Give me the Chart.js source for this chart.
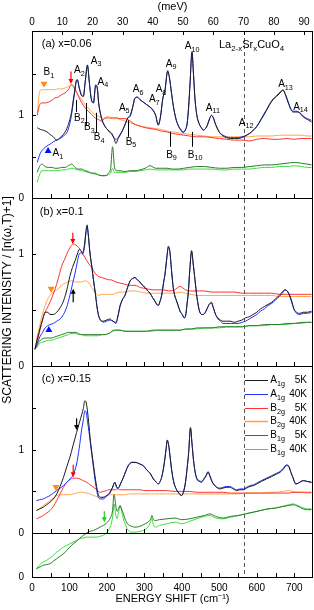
<!DOCTYPE html>
<html>
<head>
<meta charset="utf-8">
<script src="https://cdn.jsdelivr.net/npm/chart.js@4.4.1/dist/chart.umd.min.js"></script>
<style>
  html, body { margin: 0; padding: 0; background: #fff; }
  #wrap { width: 314px; height: 610px; }
</style>
</head>
<body>
<div id="wrap"><canvas id="ramanChart" width="314" height="610"></canvas></div>
<script>
// ---- panel (a) x=0.06 ----
const aGridA = [14,22,30,40,48,57,66,75,84,93, 101,106,110,114,118,121,126,132,137,142,
  148,153,158,164,170,174,178,186,193,199, 206,213,219,224,230,235,242,248,256,262,
  268,275,281,288,297,306,315,324,330,337, 343,349,355,362,367,372,377,384,390,397,
  404,409,414,418,422,427,431,435,440,446, 452,457,463,468,474,479,484,490,501,510,
  519,530,540,550,560,573,586,599,612,626, 640,653,662,670,677,684,691,697,704,711,
  718,724,735,746];
const aA1g5K = [0.85,0.83,0.82,0.80,0.77,0.74,0.70,0.73,0.77,0.84, 0.95,1.05,1.18,1.30,1.42,1.43,1.33,1.24,1.23,1.40,
  1.61,1.40,1.20,1.15,1.36,1.34,1.15,0.96,0.88,0.84, 0.81,0.78,0.72,0.66,0.72,0.76,0.82,0.88,0.97,0.99,
  1.08,1.21,1.22,1.19,1.16,1.13,1.10,1.06,1.00,0.88, 0.98,1.20,1.30,1.54,1.45,1.28,1.12,0.96,0.88,0.83,
  0.80,0.82,0.90,1.10,1.40,1.77,1.50,1.20,1.00,0.90, 0.85,0.82,0.84,0.88,0.96,1.00,0.97,0.89,0.79,0.75,
  0.73,0.72,0.72,0.72,0.73,0.76,0.80,0.86,0.95,1.06, 1.17,1.23,1.27,1.31,1.24,1.15,1.07,1.04,1.04,1.04,
  1.01,0.98,0.95,0.92];
const aA1g40K = [0.43,0.54,0.59,0.63,0.65,0.68,0.70,0.72,0.75,0.79, 0.90,1.02,1.15,1.28,1.40,1.43,1.34,1.25,1.23,1.41,
  1.60,1.40,1.21,1.15,1.37,1.33,1.14,0.96,0.88,0.84, 0.80,0.77,0.73,0.71,0.73,0.77,0.82,0.89,0.97,1.00,
  1.09,1.21,1.22,1.19,1.16,1.13,1.10,1.05,1.00,0.89, 0.99,1.20,1.31,1.53,1.45,1.28,1.12,0.96,0.88,0.82,
  0.79,0.82,0.90,1.10,1.40,1.76,1.50,1.20,1.00,0.90, 0.85,0.82,0.84,0.88,0.96,1.00,0.97,0.89,0.79,0.76,
  0.74,0.73,0.73,0.73,0.74,0.76,0.80,0.86,0.96,1.07, 1.18,1.24,1.28,1.30,1.25,1.16,1.08,1.05,1.05,1.04,
  1.02,0.99,0.96,0.94];
const aGridB = [14,20,26,35,44,53,61,70,79,88, 97,106,115,124,133,142,150,159,168,177,
  186,195,204,210,215,220,226,235,248,262, 275,288,302,315,330,345,360,375,390,405,
  420,440,460,480,500,520,540,560,580,600, 620,640,660,680,700,720,735,746];
const aB2g5K = [1.00,1.12,1.15,1.15,1.16,1.18,1.21,1.22,1.25,1.27, 1.31,1.37,1.31,1.23,1.15,1.09,1.05,1.01,0.97,0.95,
  0.93,0.97,0.98,0.97,0.97,0.97,0.97,0.96,0.96,0.93, 0.89,0.87,0.85,0.84,0.83,0.81,0.80,0.78,0.77,0.76,
  0.75,0.74,0.74,0.73,0.72,0.71,0.70,0.70,0.69,0.71, 0.72,0.71,0.71,0.72,0.71,0.72,0.72,0.72];
const aB2g40K = [1.00,1.28,1.31,1.31,1.31,1.31,1.31,1.32,1.32,1.33, 1.35,1.37,1.32,1.24,1.19,1.13,1.09,1.04,1.01,0.99,
  0.97,0.96,0.96,0.96,0.96,0.96,0.96,0.95,0.93,0.91, 0.89,0.87,0.86,0.85,0.84,0.83,0.81,0.80,0.79,0.78,
  0.77,0.76,0.75,0.74,0.74,0.74,0.74,0.74,0.74,0.75, 0.75,0.75,0.76,0.76,0.76,0.76,0.75,0.75];
const aB1g5K = [0.31,0.38,0.41,0.38,0.37,0.37,0.36,0.36,0.37,0.37, 0.39,0.41,0.37,0.35,0.35,0.33,0.32,0.30,0.30,0.28,
  0.27,0.27,0.30,0.36,0.62,0.38,0.33,0.33,0.32,0.33, 0.33,0.34,0.36,0.39,0.36,0.36,0.36,0.35,0.35,0.36,
  0.37,0.38,0.38,0.37,0.36,0.36,0.37,0.37,0.38,0.39, 0.40,0.40,0.41,0.42,0.43,0.42,0.41,0.40];
const aB1g40K = [0.19,0.28,0.33,0.33,0.33,0.33,0.33,0.33,0.34,0.34, 0.35,0.36,0.35,0.34,0.33,0.32,0.31,0.30,0.29,0.28,
  0.27,0.27,0.28,0.30,0.36,0.31,0.31,0.31,0.31,0.32, 0.32,0.33,0.34,0.35,0.34,0.34,0.34,0.34,0.34,0.34,
  0.35,0.35,0.35,0.35,0.34,0.34,0.35,0.35,0.35,0.36, 0.37,0.37,0.38,0.38,0.39,0.38,0.37,0.37];

// ---- panel (b) x=0.1 ----
const bGridA = [8,14,21,28,35,42,48,57,66,75, 84,93,101,108,115,121,126,131,135,140,
  144,147,150,155,160,164,169,173,177,181, 186,190,199,208,216,224,230,235,241,248,
  255,262,268,275,281,288,295,302,309,315, 322,328,333,337,341,346,351,355,360,364,
  368,373,377,381,386,390,395,401,406,410, 414,417,421,426,430,435,440,448,455,461,
  467,473,479,484,490,496,503,510,520,530, 540,550,560,570,580,590,600,610,620,630,
  640,650,660,668,675,681,688,693,699,706, 715,724,735,746];
const bA1g5K = [0.15,0.24,0.33,0.41,0.48,0.48,0.46,0.46,0.48,0.52, 0.58,0.68,0.80,0.88,0.94,1.00,1.04,1.03,1.01,1.08,
  1.20,1.26,1.18,1.00,0.88,0.77,0.65,0.54,0.46,0.42, 0.40,0.40,0.41,0.42,0.40,0.39,0.46,0.54,0.59,0.63,
  0.70,0.76,0.78,0.79,0.77,0.75,0.72,0.70,0.67,0.65, 0.61,0.58,0.55,0.54,0.57,0.63,0.74,0.82,0.97,1.07,
  1.02,0.83,0.70,0.63,0.58,0.54,0.49,0.46,0.43,0.45, 0.56,0.65,0.85,1.03,0.92,0.77,0.62,0.48,0.46,0.47,
  0.51,0.55,0.57,0.52,0.46,0.43,0.41,0.40,0.40,0.40, 0.39,0.40,0.41,0.43,0.44,0.46,0.48,0.51,0.53,0.55,
  0.57,0.60,0.63,0.66,0.68,0.67,0.63,0.58,0.51,0.48, 0.47,0.48,0.48,0.49];
const bA1g40K = [0.15,0.20,0.26,0.30,0.34,0.36,0.37,0.38,0.40,0.42, 0.46,0.53,0.63,0.73,0.83,0.93,1.00,1.01,1.00,1.06,
  1.19,1.25,1.18,1.00,0.88,0.77,0.65,0.54,0.46,0.42, 0.40,0.39,0.40,0.41,0.40,0.38,0.45,0.53,0.59,0.63,
  0.70,0.76,0.78,0.79,0.77,0.75,0.72,0.70,0.67,0.65, 0.61,0.58,0.55,0.54,0.57,0.63,0.74,0.82,0.97,1.06,
  1.02,0.83,0.70,0.63,0.58,0.54,0.49,0.46,0.43,0.45, 0.56,0.65,0.85,1.02,0.92,0.77,0.62,0.48,0.46,0.47,
  0.51,0.55,0.56,0.52,0.46,0.42,0.40,0.38,0.38,0.38, 0.38,0.38,0.39,0.40,0.42,0.44,0.46,0.49,0.51,0.54,
  0.56,0.59,0.62,0.65,0.68,0.67,0.62,0.57,0.51,0.47, 0.46,0.47,0.47,0.48];
const bGridB = [8,14,20,26,35,44,53,61,70,79, 88,97,104,110,117,124,132,141,150,159,
  168,177,186,195,204,210,217,224,235,248, 262,275,290,306,320,335,350,365,380,395,
  410,425,440,460,480,500,520,540,560,580, 600,620,640,660,680,700,720,735,746];
const bB2g5K = [0.15,0.22,0.30,0.39,0.48,0.54,0.61,0.68,0.78,0.89, 0.96,1.03,1.07,1.09,1.08,1.06,1.02,0.97,0.92,0.88,
  0.83,0.80,0.79,0.78,0.77,0.77,0.76,0.75,0.74,0.73, 0.72,0.72,0.70,0.69,0.68,0.68,0.68,0.67,0.68,0.71,
  0.68,0.67,0.67,0.67,0.66,0.66,0.66,0.66,0.65,0.65, 0.65,0.65,0.65,0.64,0.64,0.64,0.64,0.64,0.64];
const bB2g40K = [0.15,0.26,0.35,0.44,0.54,0.61,0.65,0.67,0.69,0.72, 0.74,0.75,0.76,0.76,0.75,0.75,0.75,0.76,0.75,0.70,
  0.66,0.63,0.64,0.64,0.64,0.64,0.64,0.65,0.66,0.66, 0.67,0.67,0.66,0.65,0.65,0.65,0.65,0.65,0.65,0.66,
  0.65,0.64,0.63,0.63,0.63,0.63,0.63,0.63,0.63,0.63, 0.63,0.63,0.63,0.62,0.62,0.62,0.62,0.62,0.62];
const bB1g5K = [0.15,0.19,0.22,0.24,0.25,0.25,0.25,0.26,0.27,0.28, 0.29,0.30,0.30,0.30,0.30,0.29,0.28,0.28,0.28,0.28,
  0.28,0.28,0.28,0.28,0.29,0.30,0.32,0.32,0.32,0.31, 0.31,0.31,0.31,0.31,0.32,0.32,0.32,0.32,0.32,0.32,
  0.33,0.33,0.34,0.34,0.34,0.35,0.35,0.35,0.35,0.36, 0.36,0.37,0.37,0.37,0.38,0.38,0.39,0.39,0.39];
const bB1g40K = [0.15,0.17,0.20,0.21,0.22,0.23,0.23,0.24,0.25,0.26, 0.27,0.28,0.29,0.29,0.29,0.28,0.28,0.27,0.27,0.27,
  0.27,0.27,0.28,0.28,0.29,0.30,0.31,0.32,0.32,0.31, 0.31,0.31,0.31,0.31,0.31,0.32,0.32,0.32,0.32,0.32,
  0.33,0.33,0.33,0.34,0.34,0.34,0.35,0.35,0.35,0.36, 0.36,0.36,0.37,0.37,0.37,0.38,0.38,0.39,0.39];

// ---- panel (c) x=0.15 ----
const cGridA = [12,21,30,39,48,57,66,75,84,93, 101,110,119,126,133,137,141,144,148,152,
  155,160,165,171,177,183,190,199,208,215, 221,226,230,237,244,250,257,266,275,288,
  297,306,315,324,330,337,342,346,351,355, 358,361,365,368,373,379,386,392,399,404,
  410,414,418,423,427,431,436,441,447,452, 458,464,470,475,480,486,493,501,510,520,
  528,537,546,555,564,573,582,591,600,612, 626,640,653,662,671,679,685,691,697,704,
  711,718,724,735,746];
const cA1g5K = [0.27,0.29,0.31,0.34,0.37,0.41,0.47,0.56,0.67,0.80, 0.91,1.06,1.21,1.32,1.43,1.50,1.59,1.58,1.47,1.30,
  1.15,0.96,0.79,0.60,0.46,0.43,0.43,0.45,0.49,0.55, 0.61,0.55,0.54,0.60,0.67,0.74,0.81,0.85,0.85,0.83,
  0.81,0.76,0.72,0.65,0.62,0.59,0.62,0.67,0.78,0.91, 1.02,1.12,1.05,0.94,0.75,0.60,0.52,0.48,0.45,0.49,
  0.62,0.78,0.96,1.27,1.08,0.88,0.72,0.64,0.62,0.61, 0.64,0.68,0.73,0.68,0.62,0.58,0.55,0.53,0.54,0.55,
  0.55,0.53,0.51,0.52,0.52,0.54,0.56,0.57,0.59,0.62, 0.65,0.68,0.71,0.73,0.77,0.81,0.80,0.73,0.66,0.59,
  0.60,0.62,0.63,0.62,0.61];
const cA1g40K = [0.39,0.40,0.41,0.43,0.45,0.48,0.51,0.54,0.57,0.61, 0.65,0.70,0.83,1.02,1.26,1.36,1.47,1.46,1.35,1.22,
  1.11,0.93,0.75,0.56,0.43,0.41,0.41,0.44,0.48,0.55, 0.61,0.55,0.54,0.60,0.67,0.74,0.81,0.85,0.85,0.83,
  0.81,0.76,0.72,0.65,0.62,0.59,0.62,0.67,0.78,0.90, 1.01,1.11,1.05,0.94,0.75,0.60,0.52,0.48,0.45,0.49,
  0.62,0.78,0.96,1.26,1.08,0.88,0.72,0.65,0.63,0.62, 0.65,0.69,0.74,0.69,0.63,0.58,0.55,0.54,0.55,0.56,
  0.56,0.54,0.52,0.53,0.53,0.55,0.57,0.58,0.60,0.63, 0.66,0.69,0.72,0.74,0.78,0.82,0.81,0.73,0.66,0.59,
  0.60,0.62,0.63,0.62,0.61];
const cGridB = [12,21,30,39,48,57,66,75,84,93, 101,110,119,128,137,146,155,164,173,181,
  190,199,205,210,215,219,223,227,231,235, 239,244,250,257,266,275,288,302,312,317,
  320,324,330,340,359,382,400,420,440,460, 475,490,510,530,550,570,590,610,630,650,
  670,685,697,710,724,735,746];
const cB2g5K = [0.17,0.19,0.21,0.24,0.27,0.32,0.39,0.47,0.55,0.61, 0.64,0.66,0.66,0.65,0.63,0.61,0.58,0.55,0.52,0.49,
  0.50,0.51,0.52,0.52,0.52,0.52,0.52,0.53,0.53,0.52, 0.52,0.52,0.52,0.52,0.52,0.52,0.52,0.51,0.51,0.51,
  0.51,0.51,0.51,0.51,0.51,0.50,0.50,0.50,0.49,0.49, 0.49,0.49,0.49,0.48,0.48,0.48,0.48,0.48,0.48,0.48,
  0.48,0.48,0.49,0.49,0.49,0.49,0.49];
const cB2g40K = [0.27,0.30,0.33,0.36,0.39,0.42,0.45,0.46,0.46,0.46, 0.46,0.47,0.48,0.49,0.49,0.48,0.47,0.45,0.44,0.42,
  0.43,0.45,0.46,0.46,0.46,0.46,0.46,0.46,0.46,0.46, 0.46,0.46,0.46,0.47,0.47,0.47,0.47,0.47,0.47,0.47,
  0.47,0.47,0.47,0.47,0.47,0.47,0.47,0.47,0.47,0.47, 0.47,0.47,0.47,0.47,0.47,0.48,0.48,0.48,0.49,0.49,
  0.50,0.51,0.50,0.49,0.49,0.48,0.48];
const cB1g5K = [0.10,0.12,0.14,0.15,0.16,0.19,0.22,0.25,0.28,0.32, 0.36,0.40,0.43,0.47,0.50,0.53,0.55,0.56,0.58,0.60,
  0.62,0.65,0.68,0.72,0.80,1.00,0.88,0.79,0.82,0.86, 0.82,0.76,0.68,0.63,0.61,0.60,0.61,0.64,0.67,0.70,
  0.74,0.69,0.68,0.69,0.70,0.71,0.69,0.70,0.72,0.74, 0.76,0.73,0.71,0.73,0.74,0.76,0.78,0.80,0.82,0.83,
  0.85,0.86,0.87,0.85,0.82,0.81,0.81];
const cB1g40K = [0.10,0.15,0.18,0.20,0.23,0.26,0.30,0.33,0.36,0.38, 0.40,0.42,0.44,0.46,0.47,0.48,0.48,0.48,0.48,0.49,
  0.50,0.53,0.57,0.62,0.72,0.88,0.76,0.70,0.78,0.86, 0.80,0.70,0.62,0.56,0.54,0.54,0.55,0.57,0.62,0.67,
  0.70,0.63,0.60,0.62,0.64,0.66,0.64,0.67,0.70,0.73, 0.74,0.71,0.70,0.72,0.74,0.76,0.78,0.80,0.82,0.83,
  0.85,0.87,0.88,0.86,0.83,0.82,0.82];
const cB1gShift = -0.53;   // B1g curves of (c) sit on their own, lower zero

// axes
const CM_PER_MEV = 8.0655;
const xTicksCm = [0,100,200,300,400,500,600,700];
const dashedAt = 566;

// peak labels of (a): [letter, index, x (cm-1), y]
const peakTags = [
  ['B','1',31,1.52], ['A','1',55,0.54], ['A','2',112,1.54], ['A','3',157,1.66], ['A','4',175,1.40],
  ['B','2',112,0.97], ['B','3',139,0.85], ['B','4',165,0.73], ['A','5',232,1.09], ['B','5',250,0.68],
  ['A','6',269,1.31], ['A','7',312,1.19], ['A','8',330,1.31], ['A','9',357,1.62], ['B','9',358,0.52],
  ['A','10',408,1.83], ['B','10',416,0.52], ['A','11',464,1.09], ['A','12',552,0.91],
  ['A','13',657,1.37], ['A','14',697,1.10]
];
// leader lines of (a): [x, yTop, yBottom]
const peakLeaders = [[118,1.185,1.04],[145,1.15,0.88],[172,1.03,0.79],[257,0.94,0.74],[368,0.80,0.62],[428,0.80,0.62]];

const colors = {
  a5: '#1c1c1c', a40: '#2030ff', b25: '#ff3030', b240: '#ffa64d', b15: '#2b7a2b', b140: '#3ddc3d'
};

const markers = [
  { axis: 'ya', kind: 'down', x: 32, y: 1.37, color: '#ff8a1a' },
  { axis: 'ya', kind: 'up', x: 43, y: 0.58, color: '#0010ff' },
  { axis: 'ya', kind: 'arrow', x: 104, y0: 1.53, y1: 1.38, color: '#ff0000' },
  { axis: 'yb', kind: 'arrow', x: 109, y0: 1.19, y1: 1.09, color: '#ff0000' },
  { axis: 'yb', kind: 'down', x: 51, y: 0.68, color: '#ff8a1a' },
  { axis: 'yb', kind: 'up', x: 45, y: 0.33, color: '#0010ff' },
  { axis: 'yb', kind: 'arrow', x: 110, y0: 0.57, y1: 0.69, color: '#000000' },
  { axis: 'yc', kind: 'arrow', x: 119, y0: 1.38, y1: 1.24, color: '#000000' },
  { axis: 'yc', kind: 'arrow', x: 110, y0: 0.82, y1: 0.67, color: '#ff0000' },
  { axis: 'yc', kind: 'down', x: 64, y: 0.54, color: '#ff8a1a' },
  { axis: 'yc', kind: 'arrow', x: 193, y0: 0.26, y1: 0.13, color: '#22cc22' }
];

const panelTitles = [['(a) x=0.06','ya',26,1.86], ['(b) x=0.1','yb',21,1.375], ['(c) x=0.15','yc',26,1.855]];

const legendRows = [
  ['A','1g','5K', colors.a5], ['A','1g','40K', colors.a40], ['B','2g','5K', colors.b25],
  ['B','2g','40K', colors.b240], ['B','1g','5K', colors.b15], ['B','1g','40K', colors.b140]
];

const FONT = '"Liberation Sans", Arial, sans-serif';
Chart.defaults.font.family = FONT;
Chart.defaults.color = '#000';

function pts(xs, ys, shift) {
  return xs.map((x, i) => ({ x: x, y: ys[i] + (shift || 0) }));
}

function line(label, data, color, axis) {
  return {
    label: label, data: data, borderColor: color, backgroundColor: color,
    borderWidth: 1, pointRadius: 0, fill: false, xAxisID: 'x', yAxisID: axis,
    cubicInterpolationMode: 'monotone'
  };
}

const datasets = [];
function addPanel(axis, gA, a5, a40, gB, b25, b240, b15, b140, shift) {
  datasets.push(line('A1g 5K', pts(gA, a5), colors.a5, axis));
  datasets.push(line('A1g 40K', pts(gA, a40), colors.a40, axis));
  datasets.push(line('B2g 5K', pts(gB, b25), colors.b25, axis));
  datasets.push(line('B2g 40K', pts(gB, b240), colors.b240, axis));
  datasets.push(line('B1g 5K', pts(gB, b15, shift), colors.b15, axis));
  datasets.push(line('B1g 40K', pts(gB, b140, shift), colors.b140, axis));
}
addPanel('ya', aGridA, aA1g5K, aA1g40K, aGridB, aB2g5K, aB2g40K, aB1g5K, aB1g40K, 0);
addPanel('yb', bGridA, bA1g5K, bA1g40K, bGridB, bB2g5K, bB2g40K, bB1g5K, bB1g40K, 0);
addPanel('yc', cGridA, cA1g5K, cA1g40K, cGridB, cB2g5K, cB2g40K, cB1g5K, cB1g40K, cB1gShift);

// text with subscripts: parts = [[text, isSub], ...]
function drawRich(ctx, x, y, parts, size) {
  let cx = x;
  for (const [t, sub] of parts) {
    ctx.font = (sub ? size * 0.72 : size) + 'px ' + FONT;
    ctx.fillText(t, cx, sub ? y + size * 0.32 : y);
    cx += ctx.measureText(t).width;
  }
  return cx;
}

const overlay = {
  id: 'overlay',
  beforeDatasetsDraw(chart) {
    const { ctx, chartArea: ca, scales } = chart;
    const xd = Math.round(scales.x.getPixelForValue(dashedAt)) + 0.5;
    ctx.save();
    ctx.strokeStyle = '#555';
    ctx.lineWidth = 1;
    ctx.setLineDash([4, 3]);
    ctx.beginPath();
    ctx.moveTo(xd, ca.top);
    ctx.lineTo(xd, ca.bottom);
    ctx.stroke();
    ctx.restore();
  },
  afterDatasetsDraw(chart) {
    const { ctx, chartArea: ca, scales } = chart;
    const sx = scales.x, ya = scales.ya, yb = scales.yb, yc = scales.yc;
    const snap = v => Math.round(v) + 0.5;
    ctx.save();
    ctx.strokeStyle = '#000';
    ctx.lineWidth = 1;

    // frames
    const hLines = [ca.top, ya.bottom, yb.bottom, yc.getPixelForValue(0), ca.bottom];
    ctx.beginPath();
    hLines.forEach(y => { ctx.moveTo(ca.left, snap(y)); ctx.lineTo(ca.right, snap(y)); });
    ctx.moveTo(snap(ca.left), ca.top); ctx.lineTo(snap(ca.left), ca.bottom);
    ctx.moveTo(snap(ca.right - 1), ca.top); ctx.lineTo(snap(ca.right - 1), ca.bottom);
    ctx.stroke();

    // inward ticks
    ctx.beginPath();
    for (let v = 50; v < 750; v += 50) {
      const px = snap(sx.getPixelForValue(v));
      [ya.bottom, yb.bottom, yc.getPixelForValue(0), ca.bottom].forEach(y => {
        ctx.moveTo(px, Math.round(y)); ctx.lineTo(px, Math.round(y) - 4);
      });
    }
    for (let m = 10; m <= 90; m += 10) {
      const px = snap(scales.x2.getPixelForValue(m));
      ctx.moveTo(px, Math.round(ca.top)); ctx.lineTo(px, Math.round(ca.top) + 4);
    }
    [[ya, [0.5, 1, 1.5]], [yb, [0.5, 1]], [yc, [0.5, 1, 1.5]]].forEach(([s, vals]) => {
      vals.forEach(v => {
        const py = snap(s.getPixelForValue(v));
        ctx.moveTo(ca.left, py); ctx.lineTo(ca.left + 4, py);
      });
    });
    ctx.stroke();

    ctx.textBaseline = 'middle';
    ctx.textAlign = 'left';
    ctx.fillStyle = '#000';

    // panel titles
    panelTitles.forEach(([t, ax, x, y]) => {
      ctx.font = '11px ' + FONT;
      ctx.fillText(t, sx.getPixelForValue(x), scales[ax].getPixelForValue(y));
    });

    // compound
    drawRich(ctx, sx.getPixelForValue(499), ya.getPixelForValue(1.85),
      [['La', false], ['2-x', true], ['Sr', false], ['x', true], ['CuO', false], ['4', true]], 11);

    // peak labels and leaders
    peakTags.forEach(([l, i, x, y]) => {
      drawRich(ctx, sx.getPixelForValue(x), ya.getPixelForValue(y), [[l, false], [i, true]], 10);
    });
    ctx.beginPath();
    peakLeaders.forEach(([x, y0, y1]) => {
      const px = snap(sx.getPixelForValue(x));
      ctx.moveTo(px, ya.getPixelForValue(y0)); ctx.lineTo(px, ya.getPixelForValue(y1));
    });
    ctx.stroke();

    // markers
    markers.forEach(m => {
      const s = scales[m.axis];
      const px = sx.getPixelForValue(m.x);
      ctx.fillStyle = m.color;
      ctx.strokeStyle = m.color;
      if (m.kind === 'down' || m.kind === 'up') {
        const py = s.getPixelForValue(m.y);
        const d = m.kind === 'down' ? 1 : -1;
        ctx.beginPath();
        ctx.moveTo(px - 3.5, py - 3 * d);
        ctx.lineTo(px + 3.5, py - 3 * d);
        ctx.lineTo(px, py + 3 * d);
        ctx.closePath();
        ctx.fill();
      } else {
        const p0 = s.getPixelForValue(m.y0), p1 = s.getPixelForValue(m.y1);
        const d = p1 > p0 ? 1 : -1;
        ctx.lineWidth = 1.2;
        ctx.beginPath();
        ctx.moveTo(px, p0); ctx.lineTo(px, p1 - 3 * d);
        ctx.stroke();
        ctx.beginPath();
        ctx.moveTo(px - 2.5, p1 - 5 * d);
        ctx.lineTo(px + 2.5, p1 - 5 * d);
        ctx.lineTo(px, p1);
        ctx.closePath();
        ctx.fill();
      }
    });

    // legend of (c)
    legendRows.forEach(([l, sub, temp, color], k) => {
      const py = Math.round(yc.getPixelForValue(1.84 - k * 0.165)) + 0.5;
      ctx.strokeStyle = color;
      ctx.lineWidth = (k === 3) ? 1.6 : 1;
      ctx.beginPath();
      ctx.moveTo(sx.getPixelForValue(568), py);
      ctx.lineTo(sx.getPixelForValue(630), py);
      ctx.stroke();
      ctx.fillStyle = '#000';
      ctx.textAlign = 'left';
      drawRich(ctx, sx.getPixelForValue(636), py, [[l, false], [sub, true]], 10);
      ctx.font = '10px ' + FONT;
      ctx.textAlign = 'right';
      ctx.fillText(temp, sx.getPixelForValue(734), py);
    });

    // y title
    ctx.textAlign = 'center';
    ctx.font = '12px ' + FONT;
    ctx.translate(8, 300);
    ctx.rotate(-Math.PI / 2);
    ctx.fillText('SCATTERING INTENSITY / [n(\u03c9,T)+1]', 0, 0);
    ctx.restore();
  }
};

function yAxis(min, max, tickVals, weight, stackWeight) {
  return {
    type: 'linear', position: 'left', stack: 'panels', stackWeight: stackWeight, weight: weight,
    min: min, max: max,
    grid: { display: false, drawTicks: false }, border: { display: false },
    ticks: { font: { size: 10 }, color: '#000', padding: 8, callback: v => (v < 0 ? '0' : String(v)) },
    afterBuildTicks: s => { s.ticks = tickVals.map(v => ({ value: v })); },
    afterFit: s => { s.width = 32; }
  };
}

new Chart(document.getElementById('ramanChart'), {
  type: 'line',
  data: { datasets: datasets },
  options: {
    responsive: false,
    animation: false,
    devicePixelRatio: 1,
    layout: { padding: { left: 0, right: 1, top: 0, bottom: 0 } },
    plugins: { legend: { display: false }, tooltip: { enabled: false } },
    scales: {
      x: {
        type: 'linear', position: 'bottom', min: 0, max: 750,
        grid: { display: false, drawTicks: false }, border: { display: false },
        ticks: { stepSize: 100, includeBounds: false, font: { size: 10 }, color: '#000', padding: 5, maxRotation: 0 },
        afterBuildTicks: s => { s.ticks = xTicksCm.map(v => ({ value: v })); },
        title: { display: true, text: 'ENERGY SHIFT (cm\u207b\u00b9)', font: { size: 11 }, color: '#000', padding: { top: 0, bottom: 4 } },
        afterFit: s => { s.height = 33; }
      },
      x2: {
        type: 'linear', position: 'top', min: 0, max: 750 / CM_PER_MEV,
        grid: { display: false, drawTicks: false }, border: { display: false },
        ticks: { stepSize: 10, includeBounds: false, font: { size: 10 }, color: '#000', padding: 3, maxRotation: 0 },
        title: { display: true, text: '(meV)', font: { size: 11 }, color: '#000', padding: { top: 0, bottom: 0 } },
        afterFit: s => { s.height = 31; }
      },
      ya: yAxis(0, 2.02, [0, 1], 3, 167),
      yb: yAxis(0, 1.5, [0, 1], 2, 168),
      yc: yAxis(-0.53, 2.01, [-0.53, 0, 1], 1, 211)
    }
  },
  plugins: [overlay]
});
</script>
</body>
</html>
